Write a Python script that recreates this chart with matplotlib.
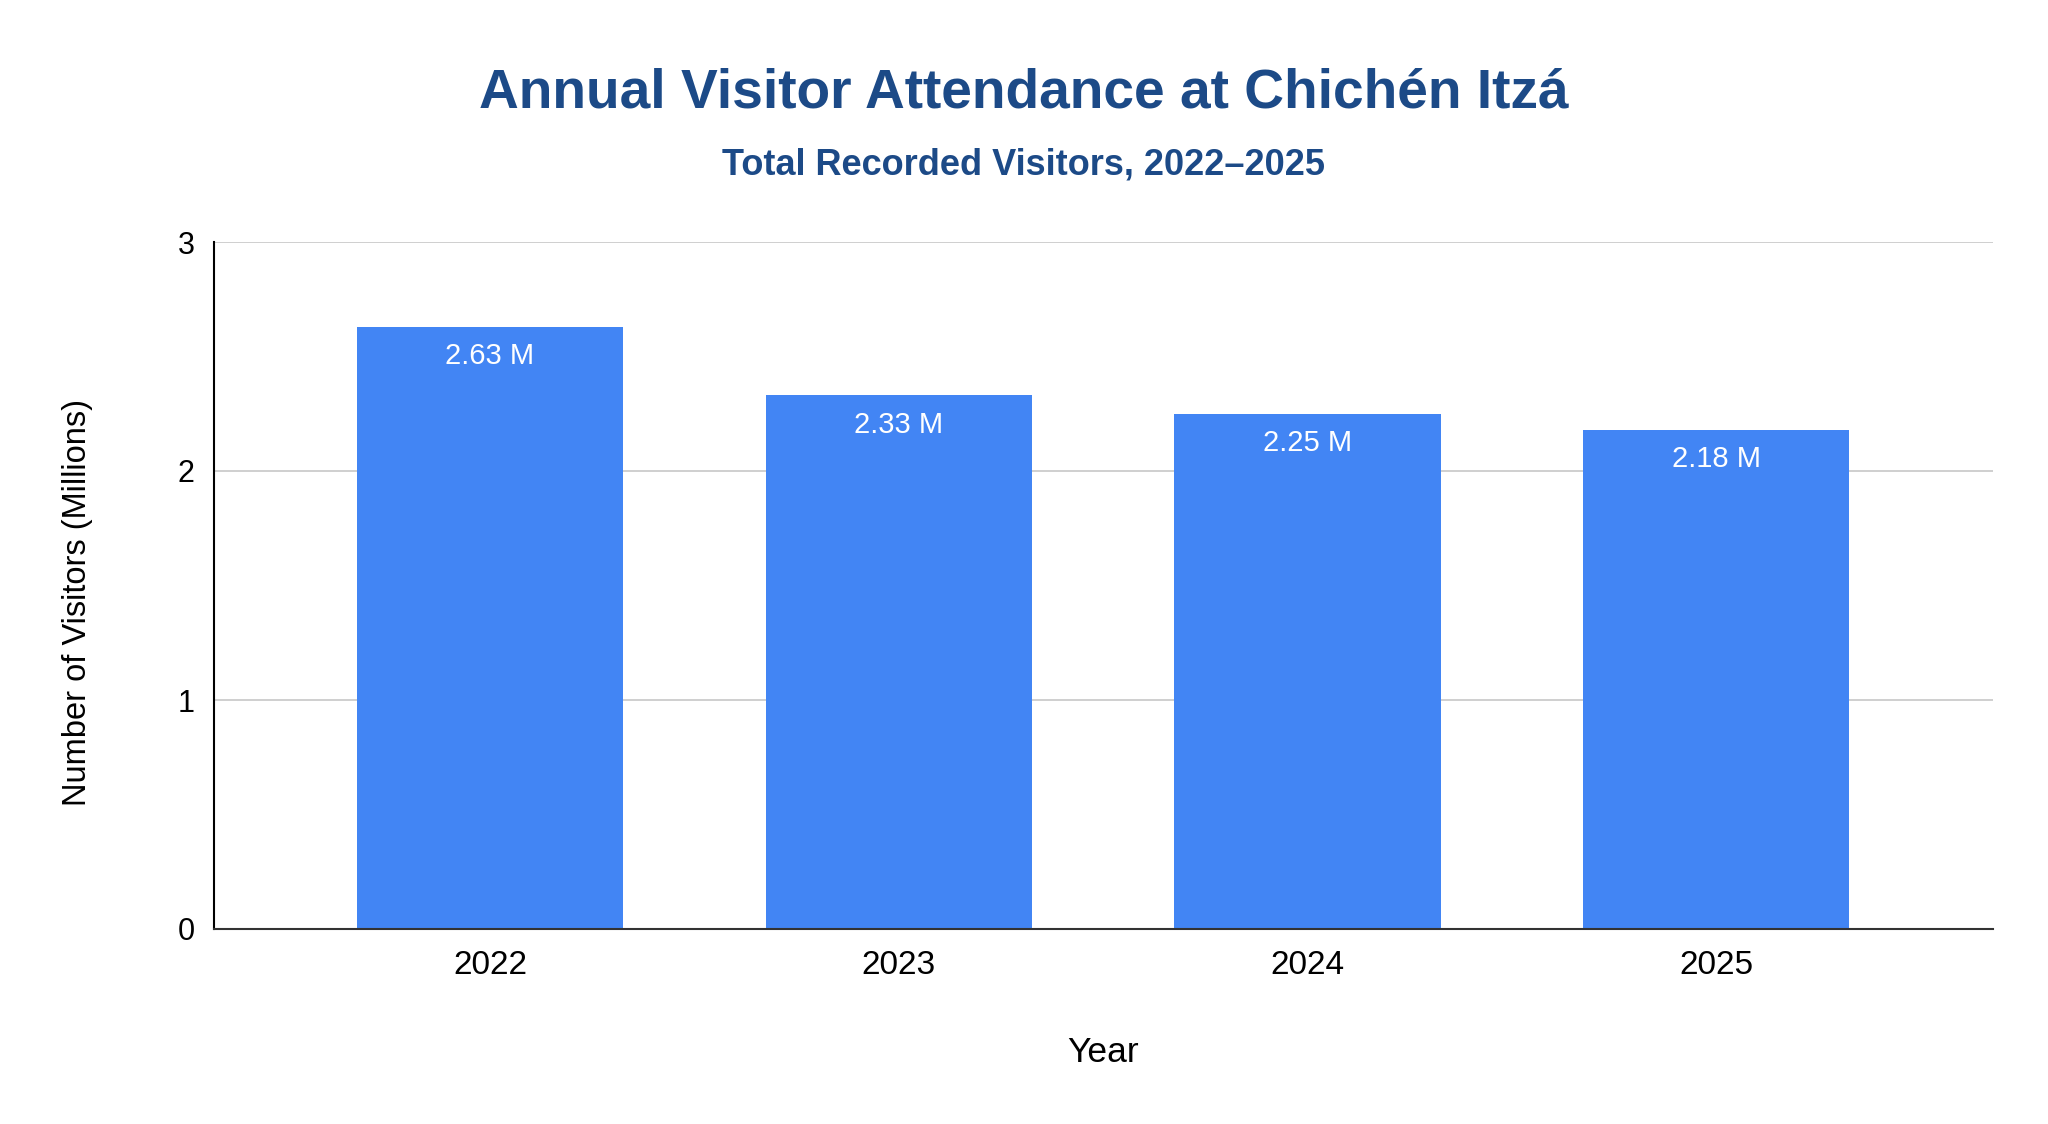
import matplotlib
matplotlib.use('Agg')
import matplotlib.pyplot as plt

# datos del grafico
years = ['2022', '2023', '2024', '2025']
visitors = [2.63, 2.33, 2.25, 2.18]
bar_labels = ['2.63 M', '2.33 M', '2.25 M', '2.18 M']
y_ticks = [0, 1, 2, 3]

plt.rcParams['font.family'] = ['Liberation Sans', 'DejaVu Sans']

fig = plt.figure(figsize=(20.48, 11.24), dpi=100)
ax = fig.add_axes([214 / 2048, 1 - 929 / 1124, (1993 - 214) / 2048, (929 - 242) / 1124])

x = range(len(years))
bars = ax.bar(x, visitors, width=0.651, color='#4285F4', zorder=3)

# etiquetas blancas dentro de cada barra
for i, (val, lab) in enumerate(zip(visitors, bar_labels)):
    ax.annotate(lab, xy=(i, val), xytext=(0, -27), textcoords='offset points',
                ha='center', va='baseline', fontsize=21, color='white', zorder=4)

ax.set_xlim(-0.675, 3.677)
ax.set_ylim(0, 3)
ax.set_yticks(y_ticks)
ax.set_xticks(list(x))
ax.set_xticklabels(years)
ax.tick_params(axis='x', length=0, labelsize=24, pad=15)
ax.tick_params(axis='y', length=0, labelsize=22, pad=14)

ax.grid(axis='y', color='#cccccc', linewidth=1.3, zorder=0)
ax.spines['top'].set_visible(False)
ax.spines['right'].set_visible(False)
ax.spines['left'].set_color('#000000')
ax.spines['left'].set_linewidth(1.5)
ax.spines['bottom'].set_color('#333333')
ax.spines['bottom'].set_linewidth(1.5)
ax.spines['bottom'].set_zorder(5)

# titulos
fig.text(0.5, 1 - 108 / 1124, 'Annual Visitor Attendance at Chichén Itzá',
         ha='center', va='baseline', fontsize=39.7, fontweight='bold', color='#1C4A87')
fig.text(0.5, 1 - 174 / 1124, 'Total Recorded Visitors, 2022–2025',
         ha='center', va='baseline', fontsize=26, fontweight='bold', color='#1C4A87')

# nombres de ejes
fig.text(1103.5 / 2048, 1 - 1062 / 1124, 'Year', ha='center', va='baseline', fontsize=25.5)
fig.text(78 / 2048, 1 - 603 / 1124, 'Number of Visitors (Millions)',
         ha='center', va='center', rotation=90, fontsize=23.5)

fig.savefig('out.png', dpi=100, facecolor='white')
